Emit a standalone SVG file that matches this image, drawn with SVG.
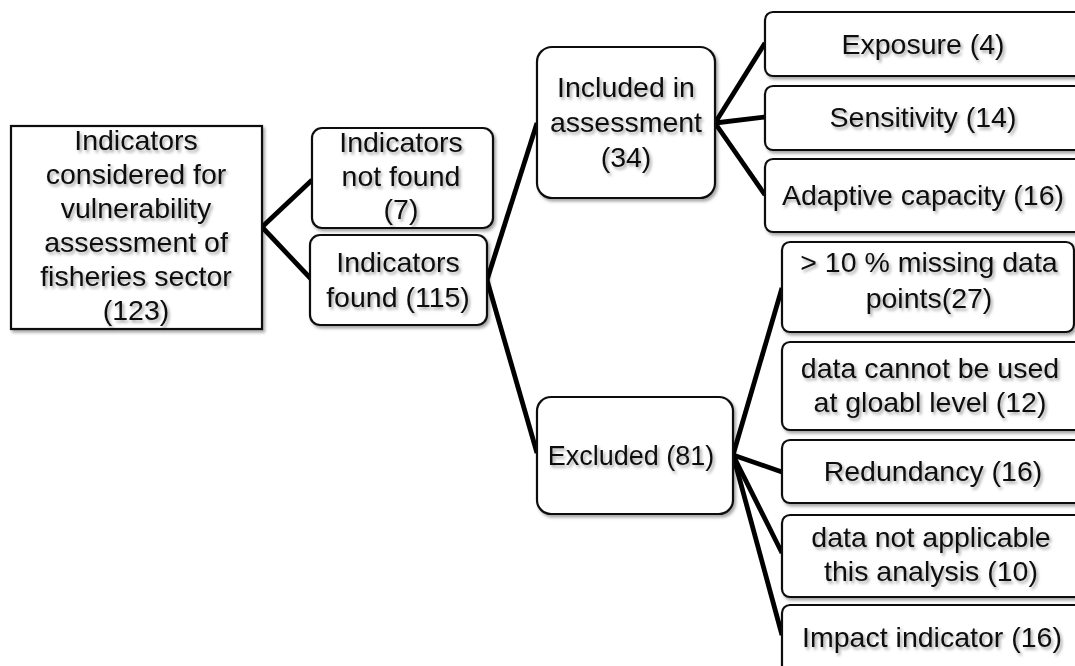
<svg xmlns="http://www.w3.org/2000/svg" width="1075" height="666" viewBox="0 0 1075 666">
  <defs>
    <filter id="shade" x="-10%" y="-10%" width="125%" height="130%">
      <feDropShadow dx="2" dy="2.5" stdDeviation="1.6" flood-color="#000" flood-opacity="0.35"/>
    </filter>
  </defs>
  <style>
    .box { fill: #fff; stroke: #111; stroke-width: 2.2; filter: url(#shade); }
    .lbl { font-family: "Liberation Sans", Arial, sans-serif; font-size: 28.5px; fill: #111; text-anchor: middle; filter: url(#shade); }
    .link { stroke: #000; stroke-width: 4.8; fill: none; stroke-linecap: butt; }
  </style>
  <rect width="1075" height="666" fill="#fff"/>

  <!-- connectors -->
  <g id="connectors">
    <line class="link" x1="262" y1="227" x2="312" y2="180"/>
    <line class="link" x1="262" y1="227" x2="312" y2="280"/>
    <line class="link" x1="487" y1="280" x2="537" y2="123"/>
    <line class="link" x1="487" y1="280" x2="537" y2="453"/>
    <line class="link" x1="715" y1="123" x2="765" y2="43"/>
    <line class="link" x1="715" y1="123" x2="765" y2="117"/>
    <line class="link" x1="715" y1="123" x2="765" y2="195"/>
    <line class="link" x1="733" y1="455" x2="782" y2="288"/>
    <line class="link" x1="733" y1="455" x2="782" y2="472"/>
    <line class="link" x1="733" y1="455" x2="782" y2="553"/>
    <line class="link" x1="733" y1="455" x2="782" y2="635"/>
  </g>

  <g id="root">
    <rect class="box" x="11" y="126" width="251" height="203"/>
    <text class="lbl" x="136" y="150">Indicators</text>
    <text class="lbl" x="136" y="184">considered for</text>
    <text class="lbl" x="136" y="218">vulnerability</text>
    <text class="lbl" x="136" y="252">assessment of</text>
    <text class="lbl" x="136" y="286">fisheries sector</text>
    <text class="lbl" x="136" y="320">(123)</text>
  </g>

  <g id="not-found">
    <rect class="box" x="312" y="128" width="181" height="100" rx="10"/>
    <text class="lbl" x="401" y="152">Indicators</text>
    <text class="lbl" x="401" y="186">not found</text>
    <text class="lbl" x="401" y="219">(7)</text>
  </g>

  <g id="found">
    <rect class="box" x="310" y="235" width="177" height="90" rx="10"/>
    <text class="lbl" x="398" y="272">Indicators</text>
    <text class="lbl" x="398" y="307">found (115)</text>
  </g>

  <g id="included">
    <rect class="box" x="537" y="47" width="178" height="151" rx="15"/>
    <text class="lbl" x="626" y="97">Included in</text>
    <text class="lbl" x="626" y="132">assessment</text>
    <text class="lbl" x="626" y="167">(34)</text>
  </g>

  <g id="excluded">
    <rect class="box" x="537" y="397" width="196" height="117" rx="14"/>
    <text class="lbl" x="631" y="465" style="font-size:27px">Excluded (81)</text>
  </g>

  <g id="exposure">
    <rect class="box" x="765" y="12" width="320" height="64" rx="8"/>
    <text class="lbl" x="923" y="54">Exposure (4)</text>
  </g>

  <g id="sensitivity">
    <rect class="box" x="765" y="86" width="320" height="64" rx="8"/>
    <text class="lbl" x="923" y="127">Sensitivity (14)</text>
  </g>

  <g id="adaptive">
    <rect class="box" x="765" y="159" width="320" height="73" rx="8"/>
    <text class="lbl" x="923" y="205">Adaptive capacity (16)</text>
  </g>

  <g id="missing">
    <rect class="box" x="782" y="242" width="292" height="90" rx="8"/>
    <text class="lbl" x="929" y="272">&gt; 10 % missing data</text>
    <text class="lbl" x="929" y="308">points(27)</text>
  </g>

  <g id="global-level">
    <rect class="box" x="782" y="342" width="310" height="88" rx="8"/>
    <text class="lbl" x="930" y="378">data cannot be used</text>
    <text class="lbl" x="930" y="412">at gloabl level (12)</text>
  </g>

  <g id="redundancy">
    <rect class="box" x="782" y="440" width="310" height="63" rx="8"/>
    <text class="lbl" x="933" y="481">Redundancy (16)</text>
  </g>

  <g id="not-applicable">
    <rect class="box" x="782" y="515" width="310" height="82" rx="8"/>
    <text class="lbl" x="931" y="547">data not applicable</text>
    <text class="lbl" x="931" y="581">this analysis (10)</text>
  </g>

  <g id="impact">
    <rect class="box" x="782" y="605" width="310" height="75" rx="8"/>
    <text class="lbl" x="932" y="647">Impact indicator (16)</text>
  </g>
</svg>
